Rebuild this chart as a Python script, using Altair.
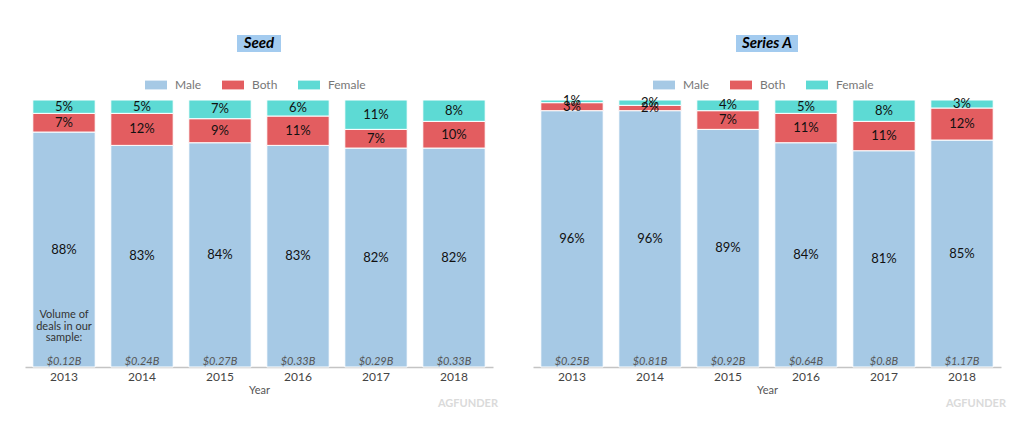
import altair as alt
import pandas as pd

years = ["2013", "2014", "2015", "2016", "2017", "2018"]
genders = ["Male", "Both", "Female"]

seed_male = [88, 83, 84, 83, 82, 82]
seed_both = [7, 12, 9, 11, 7, 10]
seed_female = [5, 5, 7, 6, 11, 8]
seed_volume = ["$0.12B", "$0.24B", "$0.27B", "$0.33B", "$0.29B", "$0.33B"]

a_male = [96, 96, 89, 84, 81, 85]
a_both = [3, 2, 7, 11, 11, 12]
a_female = [1, 2, 4, 5, 8, 3]
a_volume = ["$0.25B", "$0.81B", "$0.92B", "$0.64B", "$0.8B", "$1.17B"]

note_year = ["2013"]
note_text = ["Volume of\ndeals in our\nsample:"]

colors = ["#A6C9E5", "#E35D60", "#5DDAD4"]
FONT = "Lato"
W, H = 468, 267


def panel(title, male, both, female, volume, with_note, box_w):
    rows = []
    for i, y in enumerate(years):
        for k, (g, v) in enumerate(zip(genders, [male[i], both[i], female[i]])):
            rows.append({"year": y, "gender": g, "value": v, "order": k, "label": f"{v}%"})
    df = pd.DataFrame(rows)

    base = alt.Chart(df).transform_stack(
        stack="value",
        groupby=["year"],
        sort=[alt.SortField(field="order", order="ascending")],
        as_=["y0", "y1"],
    ).transform_calculate(mid="(datum.y0 + datum.y1) / 2")

    xenc = alt.X(
        "year:O",
        sort=years,
        scale=alt.Scale(paddingInner=0.2, paddingOuter=0.1),
        axis=alt.Axis(
            title="Year", labelAngle=0, ticks=False, domainColor="#c4c4c4",
            domainWidth=1.5, labelFontSize=12, labelColor="#444", labelPadding=4,
            titleFontSize=11, titleFontWeight="normal", titleColor="#555",
            titlePadding=2, labelFont=FONT, titleFont=FONT,
        ),
    )
    yscale = alt.Scale(domain=[0, 100])

    bars = base.mark_bar(stroke="white", strokeWidth=1).encode(
        x=xenc,
        y=alt.Y("y1:Q", scale=yscale, axis=None),
        y2="y0:Q",
        color=alt.Color(
            "gender:N",
            scale=alt.Scale(domain=genders, range=colors),
            legend=alt.Legend(
                orient="none", legendX=120, legendY=-26, direction="horizontal",
                title=None, symbolType="M-1,-0.4H1V0.4H-1Z", symbolSize=484,
                symbolStrokeWidth=0, symbolOpacity=1, labelFontSize=12,
                labelColor="#777", labelFont=FONT, columnPadding=20, labelOffset=8,
            ),
        ),
    )
    labels = base.mark_text(fontSize=13, font=FONT, color="#111").encode(
        x=alt.X("year:O", sort=years),
        y=alt.Y("mid:Q", scale=yscale),
        text="label:N",
    )

    vol_df = pd.DataFrame({"year": years, "volume": volume})
    vols = alt.Chart(vol_df).mark_text(
        fontSize=11, font=FONT, fontStyle="italic", color="#555",
        baseline="alphabetic", dy=-2,
    ).encode(x=alt.X("year:O", sort=years), y=alt.value(H), text="volume:N")

    title_df = pd.DataFrame({"t": [title]})
    box = alt.Chart(title_df).mark_rect(color="#A3CBEF").encode(
        x=alt.value(W / 2 - box_w / 2), x2=alt.value(W / 2 + box_w / 2),
        y=alt.value(-65), y2=alt.value(-48),
    )
    ttl = alt.Chart(title_df).mark_text(
        fontSize=15, font=FONT, fontWeight="bold", fontStyle="italic", color="#000",
    ).encode(x=alt.value(W / 2), y=alt.value(-57), text="t:N")

    wm = alt.Chart(pd.DataFrame({"t": ["AGFUNDER"]})).mark_text(
        fontSize=11, font=FONT, fontWeight="bold", color="#dadada", align="right",
    ).encode(x=alt.value(W + 5), y=alt.value(H + 37), text="t:N")

    layers = [box, ttl, bars, labels, vols, wm]
    if with_note:
        note_df = pd.DataFrame({"year": note_year, "note": note_text})
        note = alt.Chart(note_df).mark_text(
            fontSize=11, font=FONT, color="#333", lineBreak="\n", lineHeight=11.5,
            baseline="middle",
        ).encode(x=alt.X("year:O", sort=years), y=alt.value(215), text="note:N")
        layers.append(note)

    return alt.layer(*layers).properties(width=W, height=H)


left = panel("Seed", seed_male, seed_both, seed_female, seed_volume, True, 44)
right = panel("Series A", a_male, a_both, a_female, a_volume, False, 62)

chart = (
    alt.hconcat(left, right, spacing=35)
    .resolve_legend(color="independent")
    .properties(padding={"left": 17, "top": 27, "right": 5, "bottom": 5})
    .configure(font=FONT)
    .configure_view(strokeWidth=0, stroke="transparent")
)

chart.save("out.html", embed_options={"renderer": "svg", "actions": False})
